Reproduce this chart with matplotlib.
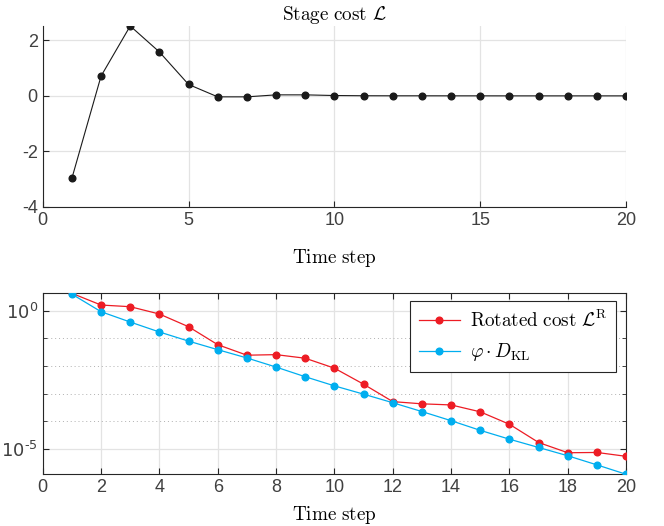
import numpy as np
import matplotlib
matplotlib.use("Agg")
import matplotlib.pyplot as plt
from matplotlib.ticker import FixedLocator, FixedFormatter, NullFormatter
from matplotlib.font_manager import FontProperties

plt.rcParams['font.family'] = ['Liberation Sans', 'DejaVu Sans']
plt.rcParams['mathtext.fontset'] = 'dejavusans'
plt.rcParams['axes.unicode_minus'] = False

# data
steps = np.arange(1, 21)
stage_cost = [-2.97, 0.71, 2.515, 1.58, 0.41, -0.036, -0.036, 0.036, 0.036, 0.012,
              0.004, 0.002, 0.002, 0.001, 0.001, 0.0, 0.0, 0.0, 0.0, 0.0]
rotated_log = [0.63, 0.205, 0.145, -0.12, -0.58, -1.23, -1.61, -1.59, -1.72, -2.08,
               -2.66, -3.29, -3.37, -3.41, -3.66, -4.11, -4.77, -5.14, -5.13, -5.27]
dkl_log = [0.60, -0.036, -0.41, -0.77, -1.10, -1.41, -1.71, -2.04, -2.39, -2.72,
           -3.02, -3.33, -3.65, -3.98, -4.33, -4.65, -4.95, -5.25, -5.58, -5.92]
rotated = 10.0 ** np.array(rotated_log)
dkl = 10.0 ** np.array(dkl_log)

top_xticks = [0, 5, 10, 15, 20]
top_yticks = [-4, -2, 0, 2]
bot_xticks = list(range(0, 21, 2))
log_major = [1e0, 1e-5]
log_major_labels = [r'$10^{0}$', r'$10^{\text{-}5}$']
log_minor = [1e-1, 1e-2, 1e-3, 1e-4]

red = '#ED1C24'
blue = '#00AEEF'
axcol = '#262626'
gridcol = '#e3e3e3'
tsize = 13.8   # serif labels
ksize = 13     # tick labels

fig = plt.figure(figsize=(6.64, 5.26), dpi=100)

# ---- top: stage cost
ax1 = fig.add_axes([0.0643, 0.6065, 0.8787, 0.3441])
ax1.plot(steps, stage_cost, color='#1a1a1a', lw=0.8, marker='o', ms=4.8, zorder=3)
ax1.set_xlim(0, 20)
ax1.set_ylim(-4, max(stage_cost))
ax1.set_xticks(top_xticks)
ax1.set_yticks(top_yticks)
ax1.grid(True, color=gridcol, lw=0.9)
ax1.set_axisbelow(True)
for s in ['top', 'right']:
    ax1.spines[s].set_visible(False)
for s in ['left', 'bottom']:
    ax1.spines[s].set_color(axcol)
    ax1.spines[s].set_linewidth(0.8)
ax1.tick_params(direction='in', length=4, colors=axcol, labelsize=ksize, labelcolor='#404040')
ax1.set_title(r'$\mathrm{Stage\ cost}\ \mathcal{L}$', fontsize=tsize, pad=4, math_fontfamily='cm')
ax1.set_xlabel(r'$\mathrm{Time\ step}$', fontsize=tsize, labelpad=13, math_fontfamily='cm')

# ---- bottom: rotated cost vs KL
ax2 = fig.add_axes([0.0643, 0.0983, 0.8787, 0.3441])
ax2.plot(steps, rotated, color=red, lw=0.9, marker='o', ms=4.8,
         label=r'$\mathrm{Rotated\ cost}\ \mathcal{L}^{\mathrm{R}}$', zorder=3)
ax2.plot(steps, dkl, color=blue, lw=0.9, marker='o', ms=4.8,
         label=r'$\varphi \cdot D_{\mathrm{KL}}$', zorder=3)
ax2.set_yscale('log')
ax2.set_xlim(0, 20)
ax2.set_ylim(dkl.min(), max(rotated.max(), dkl.max()))
ax2.set_xticks(bot_xticks)
ax2.yaxis.set_major_locator(FixedLocator(log_major))
ax2.yaxis.set_major_formatter(FixedFormatter(log_major_labels))
ax2.yaxis.set_minor_locator(FixedLocator(log_minor))
ax2.yaxis.set_minor_formatter(NullFormatter())
ax2.grid(True, which='major', color=gridcol, lw=0.9)
ax2.grid(True, which='minor', axis='y', color='#b0b0b0', lw=0.7, linestyle=(0, (1, 3)))
ax2.set_axisbelow(True)
for s in ax2.spines.values():
    s.set_color(axcol)
    s.set_linewidth(0.8)
ax2.tick_params(which='both', direction='in', length=4, colors=axcol,
                top=True, right=True, labelsize=ksize, labelcolor='#404040')
ax2.tick_params(which='minor', length=3)
ax2.set_xlabel(r'$\mathrm{Time\ step}$', fontsize=tsize, labelpad=6, math_fontfamily='cm')
leg = ax2.legend(loc='upper right', prop=FontProperties(size=tsize, math_fontfamily='cm'),
                 frameon=True, fancybox=False,
                 edgecolor=axcol, framealpha=1, handlelength=2.15, handletextpad=0.5,
                 borderpad=0.45, labelspacing=0.55, borderaxespad=0,
                 bbox_to_anchor=(0.982, 0.957))
leg.get_frame().set_linewidth(0.8)

fig.savefig('out.png', dpi=100)
